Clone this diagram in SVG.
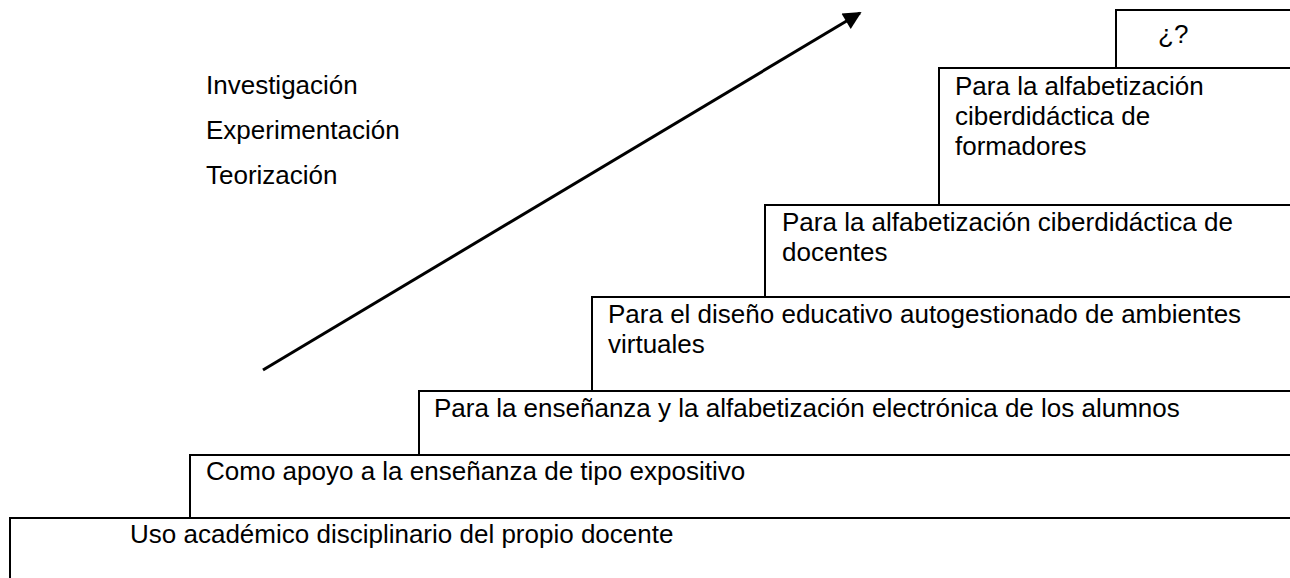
<svg xmlns="http://www.w3.org/2000/svg" width="1290" height="578" viewBox="0 0 1290 578">
<style>
.box{fill:#fff;stroke:#000;stroke-width:2}
.t{font-family:"Liberation Sans",Arial,sans-serif;font-size:26px;fill:#000}
.conn{stroke:#000;stroke-width:3;fill:none}
</style>
<defs>
<marker id="ah" viewBox="0 0 10 10" refX="9" refY="5" markerWidth="7" markerHeight="6" markerUnits="strokeWidth" orient="auto">
<path d="M0,0 L10,5 L0,10 z" fill="#000"/>
</marker>
</defs>
<rect width="1290" height="578" fill="#fff"/>
<g id="step1"><rect class="box" x="10" y="518" width="1300" height="80"/><text class="t" x="130" y="543">Uso académico disciplinario del propio docente</text></g>
<g id="step2"><rect class="box" x="190" y="455" width="1120" height="63"/><text class="t" x="206" y="480">Como apoyo a la enseñanza de tipo expositivo</text></g>
<g id="step3"><rect class="box" x="419" y="391" width="900" height="64"/><text class="t" x="434" y="417">Para la enseñanza y la alfabetización electrónica de los alumnos</text></g>
<g id="step4"><rect class="box" x="592" y="297" width="720" height="94"/><text class="t" x="608" y="323">Para el diseño educativo autogestionado de ambientes</text><text class="t" x="608" y="353">virtuales</text></g>
<g id="step5"><rect class="box" x="765" y="205" width="540" height="92"/><text class="t" x="782" y="231">Para la alfabetización ciberdidáctica de</text><text class="t" x="782" y="261">docentes</text></g>
<g id="step6"><rect class="box" x="939" y="68" width="360" height="137"/><text class="t" x="955" y="95">Para la alfabetización</text><text class="t" x="955" y="125">ciberdidáctica de</text><text class="t" x="955" y="155">formadores</text></g>
<g id="step7"><rect class="box" x="1116" y="10" width="190" height="58"/><text class="t" x="1158" y="43">¿?</text></g>
<g id="labels"><text class="t" x="206" y="94">Investigación</text><text class="t" x="206" y="139">Experimentación</text><text class="t" x="206" y="184">Teorización</text></g>
<g id="connectors"><line class="conn" x1="263" y1="370" x2="860" y2="13" marker-end="url(#ah)"/></g>
</svg>
